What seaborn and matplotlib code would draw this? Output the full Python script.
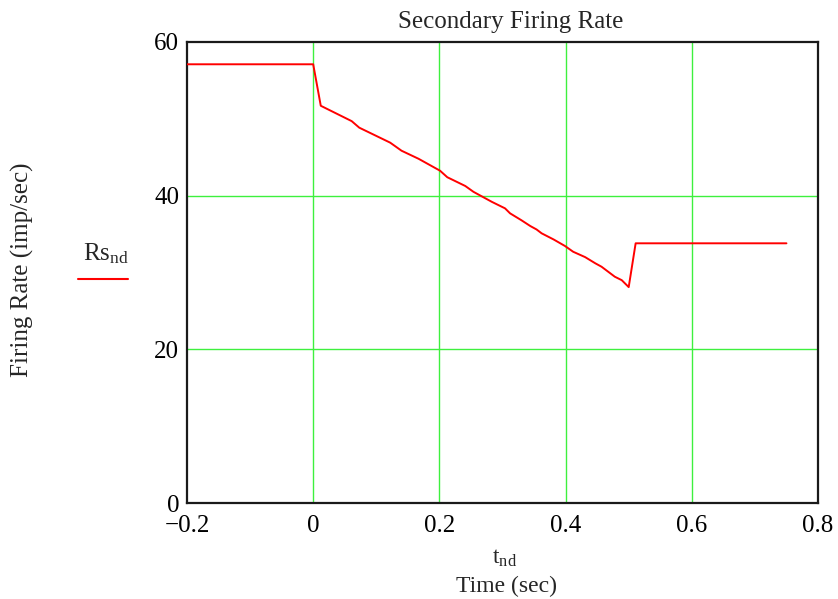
import matplotlib
matplotlib.use("Agg")
import matplotlib.pyplot as plt
import seaborn as sns
import pandas as pd

# Data
t_nd = [-0.2, 0.0, 0.012, 0.061, 0.073, 0.122, 0.140, 0.167, 0.201, 0.2125,
        0.241, 0.254, 0.283, 0.304, 0.312, 0.330, 0.344, 0.354, 0.362, 0.381,
        0.399, 0.412, 0.431, 0.447, 0.457, 0.478, 0.489, 0.500, 0.511, 0.75]
Rs_nd = [57.1, 57.1, 51.7, 49.7, 48.85, 46.9, 45.85, 44.8, 43.25, 42.4,
         41.26, 40.5, 39.2, 38.35, 37.7, 36.8, 36.05, 35.6, 35.1, 34.3,
         33.45, 32.7, 32.0, 31.2, 30.75, 29.45, 29.0, 28.1, 33.8, 33.8]
x_ticks = [-0.2, 0, 0.2, 0.4, 0.6, 0.8]
x_tick_labels = ["\u22120.2", "0", "0.2", "0.4", "0.6", "0.8"]
y_ticks = [0, 20, 40, 60]

sns.set_theme(style="white")
plt.rcParams['font.family'] = ['Liberation Serif', 'DejaVu Serif']
plt.rcParams['mathtext.fontset'] = 'custom'
plt.rcParams['mathtext.rm'] = 'Liberation Serif'
plt.rcParams['mathtext.it'] = 'Liberation Serif'

df = pd.DataFrame({"t": t_nd, "Rs": Rs_nd})

fig = plt.figure(figsize=(8.38, 5.99), dpi=100)
ax = fig.add_axes([187/838, 1 - 503/599, (818-187)/838, (503-42)/599])

for xv in x_ticks[1:-1]:
    ax.axvline(xv, color="#3ef03e", lw=1.0, zorder=1)
for yv in y_ticks[1:-1]:
    ax.axhline(yv, color="#3ef03e", lw=1.0, zorder=1)

sns.lineplot(data=df, x="t", y="Rs", ax=ax, color="#ff0000", lw=1.4,
             estimator=None, sort=False, zorder=3)

ax.set_xlim(-0.2, 0.8)
ax.set_ylim(0, 60)
ax.set_xticks(x_ticks)
ax.set_xticklabels(x_tick_labels)
ax.set_yticks(y_ticks)
ax.tick_params(axis="both", length=0, labelsize=18, colors="black")
ax.tick_params(axis="x", pad=9)
ax.tick_params(axis="y", pad=5.5)
ax.set_xlabel("")
ax.set_ylabel("")
for s in ax.spines.values():
    s.set_color("#1a1a1a")
    s.set_linewidth(1.6)

fig.text(511/838, 1 - 28/599, "Secondary Firing Rate", ha="center",
         va="baseline", fontsize=18)
fig.text(22/838, 1 - 270/599, "Firing Rate (imp/sec)", rotation=90,
         ha="center", va="center", fontsize=18)
fig.text(83/838, 1 - 260/599, r"Rs$_{\mathrm{nd}}$", ha="left", va="baseline",
         fontsize=18)
fig.lines.append(plt.Line2D([78/838, 128/838], [1 - 279/599, 1 - 279/599],
                            transform=fig.transFigure, color="#ff0000", lw=1.5))
fig.text(505/838, 1 - 564/599, r"t$_{\mathrm{nd}}$", ha="center", va="baseline",
         fontsize=17)
fig.text(506/838, 1 - 592/599, "Time (sec)", ha="center", va="baseline",
         fontsize=17)

fig.savefig("out.png", dpi=100)
